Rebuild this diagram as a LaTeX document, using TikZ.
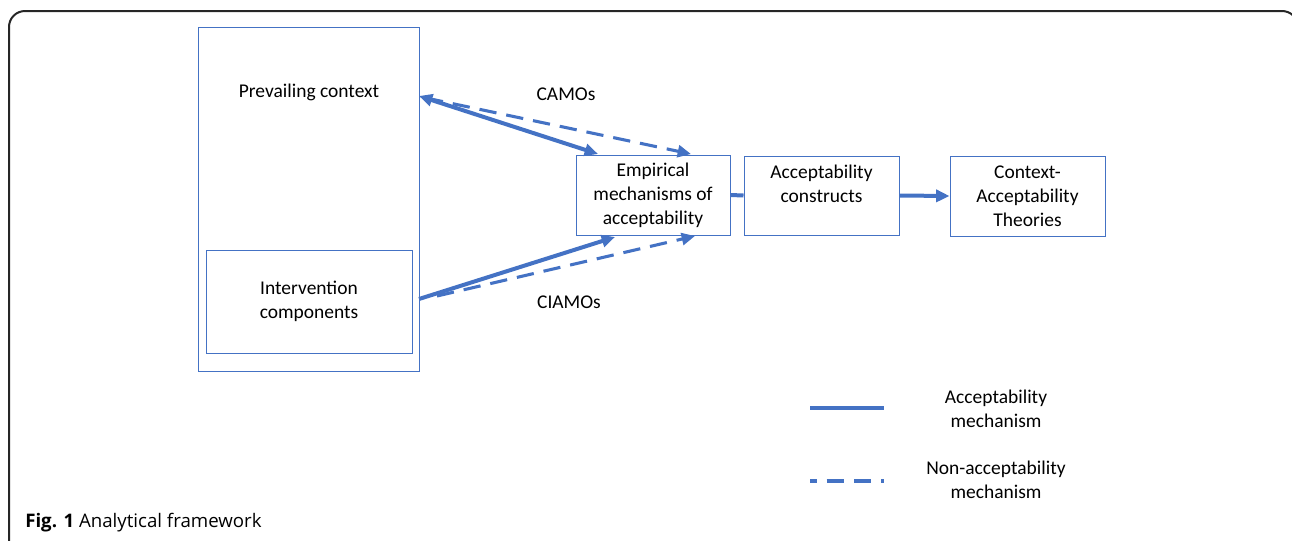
\documentclass[tikz,border=0pt]{standalone}
\usepackage{fontspec}
\setmainfont{Carlito}
\newfontfamily\capfont{Open Sans}
\usetikzlibrary{arrows.meta}
\usetikzlibrary{positioning}
\definecolor{officeblue}{HTML}{4472C4}
\tikzset{>={Triangle[length=10pt,width=9pt]}}

\begin{document}
\begin{tikzpicture}[x=0.75pt,y=-0.75pt,
    box/.style={draw=officeblue, line width=0.75pt, inner sep=0pt, align=center},
    lbl/.style={align=center, inner sep=0pt},
    mech/.style={officeblue, line width=3pt},
    nonmech/.style={officeblue, line width=2.3pt, dash pattern=on 13pt off 7.5pt},
    font=\fontsize{14.6}{18}\selectfont]
		\useasboundingbox (0,0) rectangle (1292,540);
		\clip (0,0) rectangle (1292,540);
		% frame
		\draw[black!85, line width=1.5pt, rounded corners=12pt] (9,560) -- (9,11) -- (1298,11) -- (1298,560);
		% boxes
		\node[box, minimum width=165.75pt, minimum height=258pt] (outer) at (308.5,199) {};
		\node[box, minimum width=154.5pt, minimum height=77.25pt] (interv) at (309,301.5) {Intervention\\components};
		\node[lbl] (prev) at (309,92.5) {Prevailing context};
		\node[box, minimum width=115.5pt, minimum height=60pt] (emp) at (653,195) {Empirical\\mechanisms of\\acceptability};
		\node[box, minimum width=116.25pt, minimum height=59.25pt] (acc) at (821.5,195.5) {};
		\node[lbl] (acctext) at (821.5,184) {Acceptability\\constructs};
		\node[box, minimum width=116.25pt, minimum height=60pt] (cat) at (1027.5,196) {Context-\\Acceptability\\Theories};
		\node[lbl] (camos) at (566,94) {CAMOs};
		\node[lbl] (ciamos) at (569,302) {CIAMOs};
		% connector ends
		\coordinate (c1) at (419,96);
		\coordinate (c2) at (598,154);
		\coordinate (c3) at (426,98);
		\coordinate (c4) at (691,154);
		\coordinate (i1) at (419,299);
		\coordinate (i2) at (615,237);
		\coordinate (i3) at (437,296);
		\coordinate (i4) at (695,236);
		\draw[nonmech, ->] (c3) -- (c4);
		\draw[mech, <->] (c1) -- (c2);
		\draw[nonmech, ->] (i3) -- (i4);
		\draw[mech, ->] (i1) -- (i2);
		\draw[mech] (emp.east) -- (acc.west);
		\draw[mech, ->] (acc.east) -- (cat.west);
		% legend
		\coordinate (la1) at (810,408);
		\coordinate (la2) at (884,408);
		\coordinate (lb1) at (810,481);
		\coordinate (lb2) at (884,481);
		\draw[mech] (la1) -- (la2);
		\draw[nonmech, dash phase=8pt] (lb1) -- (lb2);
		\node[lbl] (legacc) at (996,409) {Acceptability\\mechanism};
		\node[lbl] (legnon) at (996,480) {Non-acceptability\\mechanism};
		% caption
		\node[anchor=west, inner sep=0pt, font=\capfont\fontsize{14}{16}\selectfont] (caption) at (25,523) {\textbf{Fig. 1} Analytical framework};
	\end{tikzpicture}
\end{document}
